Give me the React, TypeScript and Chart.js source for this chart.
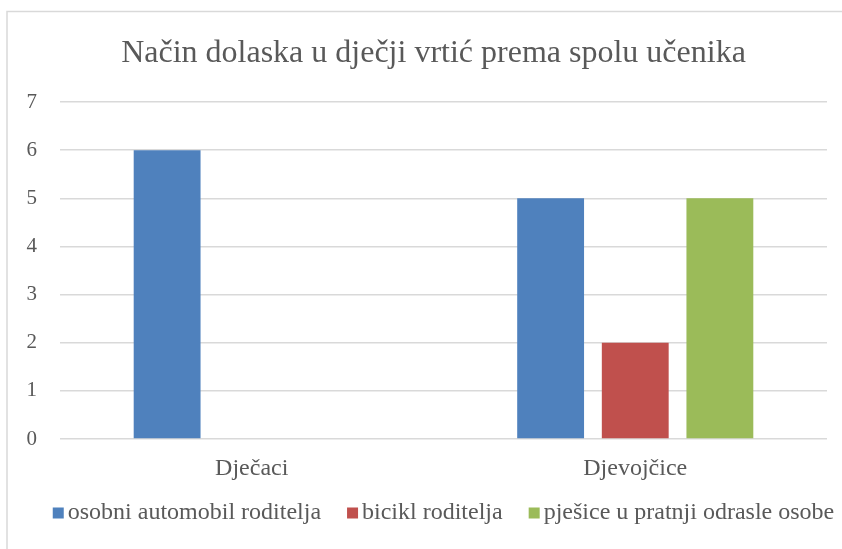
import React, { useEffect, useRef } from "react";
import { Chart, registerables } from "chart.js";

Chart.register(...registerables);

const TITLE = "Način dolaska u dječji vrtić prema spolu učenika";
const categories = ["Dječaci", "Djevojčice"];
const seriesNames = [
  "osobni automobil roditelja",
  "bicikl roditelja",
  "pješice u pratnji odrasle osobe",
];
const carValues = [6, 5];
const bikeValues = [0, 2];
const walkValues = [0, 5];
const seriesColors = ["#4F81BD", "#C0504D", "#9BBB59"];
const yTicks = [0, 1, 2, 3, 4, 5, 6, 7];

const FONT = "'Liberation Serif', 'Times New Roman', serif";
const TEXT = "#595959";

const frameTitleLegend = {
  id: "frameTitleLegend",
  beforeDraw(chart: any) {
    const ctx = chart.ctx;
    ctx.save();
    ctx.fillStyle = "#FFFFFF";
    ctx.fillRect(0, 0, chart.width, chart.height);
    ctx.strokeStyle = "#D9D9D9";
    ctx.lineWidth = 1.5;
    ctx.strokeRect(7, 11.5, chart.width + 20, chart.height + 20);
    ctx.restore();
  },
  afterDraw(chart: any) {
    const ctx = chart.ctx;
    const ds = chart.data.datasets;
    ctx.save();
    // title
    ctx.font = `32px ${FONT}`;
    ctx.fillStyle = TEXT;
    ctx.textAlign = "center";
    ctx.textBaseline = "alphabetic";
    ctx.fillText(TITLE, 433.5, 62);
    // legend
    ctx.font = `24px ${FONT}`;
    ctx.textBaseline = "middle";
    ctx.textAlign = "left";
    const box = 11;
    const boxGap = 4;
    const itemGap = 26;
    const widths = ds.map((d: any) => ctx.measureText(d.label).width);
    let total = 0;
    widths.forEach((w: number, i: number) => {
      total += box + boxGap + w + (i < widths.length - 1 ? itemGap : 0);
    });
    const area = chart.chartArea;
    let x = (area.left + area.right) / 2 - total / 2;
    const yMid = 513;
    ds.forEach((d: any, i: number) => {
      ctx.fillStyle = d.backgroundColor;
      ctx.fillRect(x, yMid - box / 2, box, box);
      ctx.fillStyle = TEXT;
      ctx.fillText(d.label, x + box + boxGap, yMid);
      x += box + boxGap + widths[i] + itemGap;
    });
    ctx.restore();
  },
};

export default function App() {
  const ref = useRef<HTMLCanvasElement | null>(null);
  useEffect(() => {
    document.body.style.margin = "0";
    document.body.style.overflow = "hidden";
    const canvas = ref.current!;
    const chart = new Chart(canvas, {
      type: "bar",
      data: {
        labels: categories,
        datasets: [
          { label: seriesNames[0], data: carValues, backgroundColor: seriesColors[0] },
          { label: seriesNames[1], data: bikeValues, backgroundColor: seriesColors[1] },
          { label: seriesNames[2], data: walkValues, backgroundColor: seriesColors[2] },
        ],
      },
      options: {
        responsive: false,
        animation: false,
        devicePixelRatio: 1,
        datasets: {
          bar: { categoryPercentage: 0.662, barPercentage: 0.79 },
        } as any,
        layout: { padding: { left: 8, right: 15, top: 102, bottom: 60 } },
        plugins: {
          legend: { display: false },
          tooltip: { enabled: false },
          title: { display: false },
        },
        scales: {
          x: {
            grid: { display: false, drawTicks: false },
            border: { display: false },
            ticks: {
              color: TEXT,
              font: { family: FONT, size: 24 },
              padding: 15,
            },
            afterFit(scale: any) {
              scale.height = 50;
            },
          },
          y: {
            min: 0,
            max: 7,
            afterBuildTicks(scale: any) {
              scale.ticks = yTicks.map((v) => ({ value: v }));
            },
            grid: { color: "#D9D9D9", lineWidth: 1.5, drawTicks: false },
            border: { display: false },
            ticks: {
              color: TEXT,
              font: { family: FONT, size: 21 },
              padding: 23,
            },
            afterFit(scale: any) {
              scale.width = 52;
            },
          },
        },
      },
      plugins: [frameTitleLegend],
    });
    return () => chart.destroy();
  }, []);
  return (
    <div style={{ width: 842, height: 549 }}>
      <canvas ref={ref} width={842} height={549} style={{ display: "block" }} />
    </div>
  );
}
